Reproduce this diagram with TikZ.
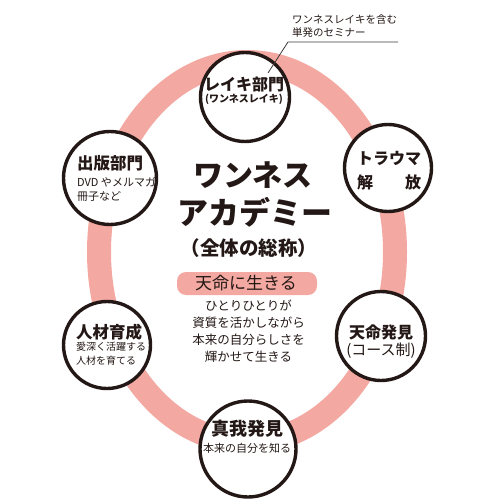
\documentclass[tikz,border=0pt]{standalone}
\usepackage{fontspec}
\setmainfont{Noto Sans CJK JP}
\definecolor{ringpink}{RGB}{243,168,161}
\definecolor{ink}{RGB}{35,24,21}
\definecolor{leader}{RGB}{62,58,57}
\newcommand{\fs}[1]{\fontsize{#1}{#1}\selectfont}
\begin{document}
\begin{tikzpicture}[x=1pt,y=-1pt,
  unit/.style={circle,draw=ink,line width=3.4pt,fill=white,inner sep=0pt},
  txt/.style={inner sep=0pt,text=ink},
  lefttxt/.style={inner sep=0pt,text=ink,anchor=west},
  pill/.style={fill=ringpink,rounded corners=9pt,minimum width=140pt,minimum height=23pt,inner sep=0pt}]
\useasboundingbox (0,0) rectangle (500,500);
% ring
\draw[ringpink,line width=24pt] (247,252) ellipse [x radius=148pt, y radius=190pt];
% annotation
\node[lefttxt] (ann1) at (292,20) {\fs{10.5}ワンネスレイキを含む};
\node[lefttxt] (ann2) at (292,33) {\fs{10.5}単発のセミナー};
% circles
\node[unit,minimum size=89pt] (reiki) at (245,97) {};
\node[unit,minimum size=93pt] (pub) at (110,178) {};
\node[unit,minimum size=87pt] (trauma) at (388,168) {};
\node[unit,minimum size=87pt] (jinzai) at (107,345) {};
\node[unit,minimum size=89pt] (tenmei) at (381,336) {};
\node[unit,minimum size=96pt] (shinga) at (248,449) {};
% leader line
\coordinate (l1) at (268,73);
\coordinate (l2) at (288,42);
\coordinate (l3) at (398,42);
\draw[leader,line width=0.8pt] (l1) -- (l2) -- (l3);
% circle texts
\node[txt] (reikiA) at (244,85) {\fs{16}\bfseries レイキ部門};
\node[txt] (reikiB) at (244,99) {\fs{10}\bfseries (ワンネスレイキ)};
\node[lefttxt] (pubA) at (77,163) {\fs{16.5}\bfseries 出版部門};
\node[lefttxt] (pubB) at (77,182) {\fs{11}DVD やメルマガ};
\node[lefttxt] (pubC) at (77,196) {\fs{11}冊子など};
\node[txt] (trA) at (389,159) {\fs{16}\bfseries トラウマ};
\node[txt] (trB) at (389,182) {\fs{16}\bfseries 解\hspace*{2em}放};
\node[lefttxt] (jiA) at (76,332) {\fs{16.5}\bfseries 人材育成};
\node[lefttxt] (jiB) at (76,347) {\fs{10}愛深く活躍する};
\node[lefttxt] (jiC) at (76,361) {\fs{10}人材を育てる};
\node[txt] (teA) at (381,332) {\fs{16}\bfseries 天命発見};
\node[txt] (teB) at (381,351) {\fs{15}(コース制)};
\node[txt] (shA) at (247,429) {\fs{18}\bfseries 真我発見};
\node[txt] (shB) at (247,448) {\fs{11}本来の自分を知る};
% centre
\node[txt] (cA) at (253,175) {\fs{30}\bfseries ワンネス};
\node[txt] (cB) at (255,212) {\fs{31}\bfseries アカデミー};
\node[txt] (cC) at (249,248) {\fs{19.5}\bfseries （全体の総称）};
\node[pill] (box) at (247,283.5) {};
\node[txt] (boxt) at (246,283.5) {\fs{17}天命に生きる};
\node[txt] (b1) at (248.5,306) {\fs{12.5}ひとりひとりが};
\node[txt] (b2) at (248.5,323) {\fs{12.5}資質を活かしながら};
\node[txt] (b3) at (248.5,340) {\fs{12.5}本来の自分らしさを};
\node[txt] (b4) at (248.5,357) {\fs{12.5}輝かせて生きる};
\end{tikzpicture}
\end{document}
